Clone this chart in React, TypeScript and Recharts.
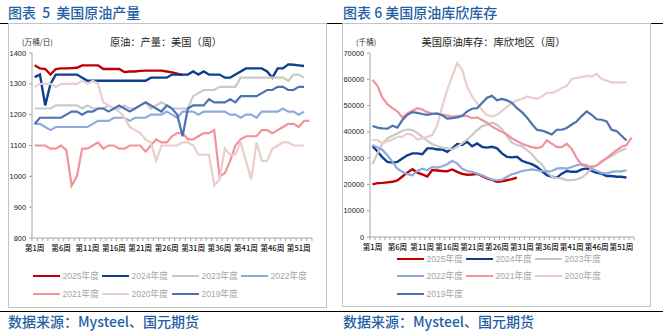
import React from 'react';
import { LineChart, Line, XAxis, YAxis } from 'recharts';

// ---------- categories / labels ----------
const weeks: string[] = Array.from({ length: 53 }, (_, i) => `第${i + 1}周`);
const seriesNames = ['2025年度', '2024年度', '2023年度', '2022年度', '2021年度', '2020年度', '2019年度'];
const seriesKeys = ['y2025', 'y2024', 'y2023', 'y2022', 'y2021', 'y2020', 'y2019'];
const seriesColors = ['#C00000', '#0C3F8E', '#C9C9C9', '#8FAADC', '#F2939C', '#EBCDCD', '#4E72B1'];

const prodTicks = [800, 900, 1000, 1100, 1200, 1300, 1400];
const stockTicks = [0, 10000, 20000, 30000, 40000, 50000, 60000, 70000];

// ---------- US crude production (万桶/日) ----------
const prod2025 = [1360,1350,1348,1330,1348,1350,1350,1351,1352,1360,1360,1360,1360,1348,1348,1348,1348,1338,1340,1340,1342,1343,1343,1343,1343,1340,1337,1333,1328];
const prod2024 = [1322,1330,1230,1300,1330,1330,1330,1330,1330,1320,1310,1310,1310,1310,1310,1310,1310,1310,1310,1310,1310,1310,1320,1320,1320,1320,1330,1330,1330,1330,1340,1330,1340,1330,1330,1330,1320,1320,1330,1340,1350,1350,1350,1350,1340,1320,1350,1350,1363,1362,1360,1358];
const prod2023 = [1220,1220,1220,1220,1230,1230,1230,1230,1230,1220,1230,1220,1220,1220,1230,1220,1220,1230,1220,1220,1230,1240,1220,1230,1240,1230,1220,1220,1220,1220,1260,1270,1280,1280,1280,1290,1290,1290,1290,1320,1320,1320,1320,1320,1320,1320,1320,1320,1310,1330,1330,1320];
const prod2022 = [1170,1170,1160,1150,1160,1160,1160,1160,1160,1160,1160,1170,1180,1180,1180,1190,1190,1190,1180,1190,1190,1190,1200,1200,1200,1210,1200,1190,1210,1210,1210,1200,1210,1210,1210,1210,1210,1200,1200,1190,1200,1200,1190,1210,1210,1210,1210,1220,1210,1210,1200,1210];
const prod2021 = [1100,1100,1100,1090,1090,1100,1085,970,1000,1090,1090,1100,1110,1090,1100,1100,1090,1090,1100,1100,1100,1080,1100,1120,1110,1110,1130,1140,1140,1120,1120,1130,1140,1140,1150,1000,1010,1050,1100,1120,1130,1130,1130,1150,1150,1140,1150,1160,1170,1170,1160,1180,1180];
const prod2020 = [1290,1300,1300,1300,1290,1300,1300,1300,1300,1310,1300,1310,1300,1240,1230,1220,1210,1190,1160,1150,1140,1120,1110,1050,1100,1100,1100,1100,1110,1110,1100,1070,1070,1070,970,990,1090,1070,1070,1110,1050,990,1110,1050,1050,1090,1100,1110,1110,1100,1100,1100];
const prod2019 = [1170,1190,1190,1190,1190,1190,1200,1210,1210,1200,1210,1210,1220,1220,1210,1220,1230,1220,1210,1220,1230,1240,1230,1220,1210,1230,1220,1200,1130,1220,1230,1230,1230,1250,1240,1240,1240,1250,1240,1260,1260,1260,1260,1270,1280,1280,1290,1290,1280,1280,1290,1290];

// ---------- Cushing crude stocks (千桶) ----------
const stock2025 = [20000,20500,20600,20800,21000,21500,23000,24500,25800,24500,23800,23000,25500,25300,25100,25000,25700,24800,24000,23700,23800,24000,23200,22300,21700,21000,21200,21600,22000,22600];
const stock2024 = [34600,32500,30300,28600,28300,28600,29900,31100,31800,31800,31500,33700,33700,33300,33300,32400,33700,35400,35000,36200,34500,35600,34300,34000,34300,33700,31800,30500,30300,30500,29000,28300,27700,26700,25100,23500,22900,22600,24100,25100,24800,24800,25700,26100,25100,24400,24100,23200,23200,22900,22900,22600];
const stock2023 = [27700,31800,35600,37500,38500,39400,40400,40900,40700,39600,38100,36600,35300,34600,34000,33700,33300,34300,35600,37100,38800,40700,42200,42700,43500,42700,41000,38400,35900,35000,34600,33100,31500,29200,27700,24800,22900,22500,22300,21600,21600,21900,22600,24100,26000,27300,28900,29900,30800,32000,33000,33800];
const stock2022 = [35000,34100,33100,31100,28600,26000,24800,23900,23500,25100,26000,25400,26700,26400,26900,27700,29000,28000,26000,25100,24800,24100,23500,22600,21800,21600,21800,22900,23900,24400,25100,25400,25700,25400,25100,25000,25100,26000,26200,26000,26600,27300,27700,27300,26000,25100,24400,24100,24800,25000,25000,25400];
const stock2021 = [59800,57500,53000,50500,49000,47800,45500,47000,48000,49000,48500,47500,47000,46800,46500,46200,45800,46000,46200,46000,45200,45500,44500,43500,42000,41000,40000,39000,37500,36500,35500,34800,34200,33800,34300,36800,35500,34200,34200,35500,33500,30000,27500,26800,26800,27200,28500,30000,31500,33000,34300,35000,37800];
const stock2020 = [36900,36900,35600,36300,37100,38100,38100,39400,38800,37100,37500,38100,38800,42600,49600,56000,61100,66200,63600,57300,53500,50900,48300,46400,45800,46500,48000,49500,51000,52000,52500,53500,53000,52500,53500,54800,54800,55500,56700,57500,60100,60500,60800,61300,61000,62100,60100,59500,58800,58800,58800,58800];
const stock2019 = [42200,41600,41300,41200,42300,41600,44500,46500,47500,47200,46800,46500,46800,47000,46300,45000,45200,45500,46000,47800,48800,49000,51000,53000,53700,52000,52500,52000,51000,49000,47500,45500,43000,40800,40500,39800,39000,40800,40800,41500,42800,44000,46000,47800,46500,44800,44600,44000,40800,40300,38500,36700];

const prodSeries = [prod2025, prod2024, prod2023, prod2022, prod2021, prod2020, prod2019];
const stockSeries = [stock2025, stock2024, stock2023, stock2022, stock2021, stock2020, stock2019];

const buildRows = (series: number[][]) =>
  weeks.map((w, i) => {
    const row: Record<string, any> = { week: w };
    seriesKeys.forEach((k, j) => {
      const v = series[j][i];
      row[k] = v === undefined ? null : v;
    });
    return row;
  });

const prodRows = buildRows(prodSeries);
const stockRows = buildRows(stockSeries);

const NUM_FONT = "'Liberation Sans', 'Noto Sans CJK SC', sans-serif";
const CJK_FONT = "'Noto Sans CJK SC', 'Liberation Sans', sans-serif";
const AXIS_COLOR = '#A6A6A6';

const makeXTick = (step: number) => (props: any) => {
  const { x, y, payload, index } = props;
  const i = typeof index === 'number' ? index : payload.index;
  const bx = x - step / 2;
  return (
    <g>
      <line x1={bx} x2={bx} y1={y} y2={y + 3} stroke={AXIS_COLOR} strokeWidth={1} />
      {i === weeks.length - 1 ? (
        <line x1={x + step / 2} x2={x + step / 2} y1={y} y2={y + 3} stroke={AXIS_COLOR} strokeWidth={1} />
      ) : null}
      {i % 5 === 0 ? (
        <text x={x} y={y + 12.7} textAnchor="middle" fontSize={7.6} fontFamily={CJK_FONT} fill="#111" fontWeight={500}>
          {payload.value}
        </text>
      ) : null}
    </g>
  );
};

type PanelProps = {
  left: number;
  width: number;
  rows: any[];
  yTicks: number[];
  yWidth: number;
  marginRight: number;
  plotBottom: number;
};

function Chart({ left, width, rows, yTicks, yWidth, marginRight, plotBottom }: PanelProps) {
  const H = 334;
  const top = 53;
  const xh = 20;
  const plotW = width - yWidth - marginRight;
  const step = plotW / weeks.length;
  const pad = step / 2;
  return (
    <div style={{ position: 'absolute', left, top: 0 }}>
      <LineChart
        width={width}
        height={H}
        data={rows}
        margin={{ top, right: marginRight, left: 0, bottom: H - plotBottom - xh }}
      >
        <XAxis
          dataKey="week"
          interval={0}
          height={xh}
          padding={{ left: pad, right: pad }}
          tickLine={false}
          tickSize={0}
          tickMargin={0}
          axisLine={{ stroke: AXIS_COLOR, strokeWidth: 1 }}
          tick={makeXTick(step)}
        />
        <YAxis
          width={yWidth}
          domain={[yTicks[0], yTicks[yTicks.length - 1]]}
          ticks={yTicks}
          interval={0}
          tickSize={3}
          tickMargin={3}
          axisLine={{ stroke: AXIS_COLOR, strokeWidth: 1 }}
          tickLine={{ stroke: AXIS_COLOR }}
          tick={{ fontSize: 7.4, fill: '#222', fontFamily: NUM_FONT }}
          allowDataOverflow
        />
        {seriesKeys.map((k, j) => (
          <Line
            key={k}
            type="linear"
            dataKey={k}
            stroke={seriesColors[j]}
            strokeWidth={j < 2 ? 2.4 : 2.2}
            dot={false}
            activeDot={false}
            connectNulls={false}
            isAnimationActive={false}
          />
        ))}
      </LineChart>
    </div>
  );
}

function LegendItems({ pos }: { pos: number[][] }) {
  return (
    <>
      {seriesNames.map((n, j) => (
        <div
          key={n}
          style={{
            position: 'absolute',
            left: pos[j][0],
            top: pos[j][1] - 6,
            height: 12,
            display: 'flex',
            alignItems: 'center',
            whiteSpace: 'nowrap',
          }}
        >
          <span style={{ display: 'inline-block', width: 27, height: 2.6, background: seriesColors[j] }} />
          <span style={{ marginLeft: 2.5, fontSize: 8.6, color: '#A6A6A6', fontFamily: NUM_FONT, lineHeight: '12px' }}>{n}</span>
        </div>
      ))}
    </>
  );
}

const abs = (l: number, t: number, extra: React.CSSProperties = {}): React.CSSProperties => ({
  position: 'absolute',
  left: l,
  top: t,
  whiteSpace: 'nowrap',
  lineHeight: 1,
  ...extra,
});

const TITLE_BLUE = '#245FA5';

export default function App() {
  return (
    <div style={{ position: 'absolute', left: 0, top: 0, width: 663, height: 334, background: '#fff', overflow: 'hidden' }}>
      {/* rules */}
      <div style={abs(0, 22.5, { width: 663, height: 1.5, background: '#000' })} />
      <div style={abs(0, 310.5, { width: 663, height: 1.3, background: '#000' })} />
      {/* boxes */}
      <div style={abs(8, 23, { width: 319, height: 285, border: '1px solid #C4C4C4', boxSizing: 'border-box' })} />
      <div style={abs(342, 23, { width: 309, height: 284, border: '1px solid #C4C4C4', boxSizing: 'border-box' })} />

      {/* titles */}
      <div style={abs(8, 5, { fontSize: 14, color: TITLE_BLUE, fontFamily: CJK_FONT, fontWeight: 500, wordSpacing: 3 })}>图表 5 美国原油产量</div>
      <div style={abs(343, 5, { fontSize: 14, color: TITLE_BLUE, fontFamily: CJK_FONT, fontWeight: 500 })}>图表 6 美国原油库欣库存</div>

      {/* source */}
      <div style={abs(8, 314, { fontSize: 14, color: TITLE_BLUE, fontFamily: CJK_FONT, fontWeight: 500 })}>数据来源：Mysteel、国元期货</div>
      <div style={abs(343, 314, { fontSize: 14, color: TITLE_BLUE, fontFamily: CJK_FONT, fontWeight: 500 })}>数据来源：Mysteel、国元期货</div>

      {/* inner chart titles and units */}
      <div style={abs(22, 37.5, { fontSize: 7.6, color: '#333', fontFamily: CJK_FONT })}>(万桶/日)</div>
      <div style={abs(110, 36.5, { fontSize: 10.2, color: '#222', fontFamily: CJK_FONT })}>原油：产量：美国（周）</div>
      <div style={abs(356, 37.5, { fontSize: 7.6, color: '#333', fontFamily: CJK_FONT })}>(千桶)</div>
      <div style={abs(421.5, 36.5, { fontSize: 10.3, color: '#222', fontFamily: CJK_FONT })}>美国原油库存：库欣地区（周）</div>

      <Chart left={0} width={330} rows={prodRows} yTicks={prodTicks} yWidth={32} marginRight={18} plotBottom={238} />
      <Chart left={330} width={333} rows={stockRows} yTicks={stockTicks} yWidth={40} marginRight={29} plotBottom={237} />

      <LegendItems pos={[[33, 276], [102, 276], [172, 276], [241, 276], [33, 294], [102, 294], [172, 294]]} />
      <LegendItems pos={[[397, 259], [466, 259], [535, 259], [397, 276], [466, 276], [535, 276], [397, 294]]} />
    </div>
  );
}
